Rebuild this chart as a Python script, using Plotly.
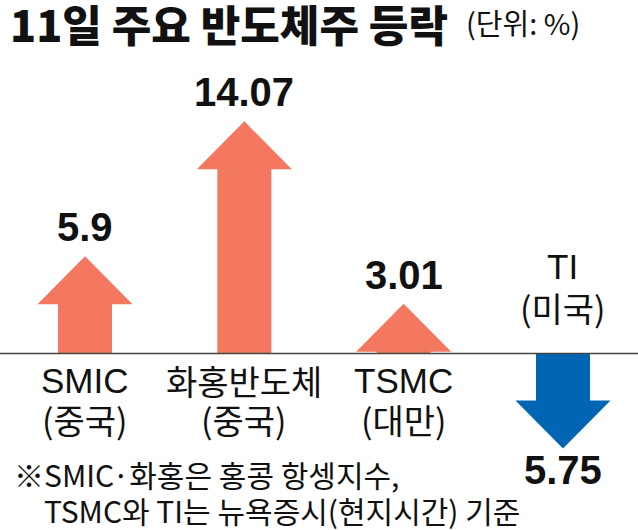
import plotly.graph_objects as go

# ---- data ----
categories = ["SMIC", "화홍반도체", "TSMC", "TI"]
countries = ["(중국)", "(중국)", "(대만)", "(미국)"]
changes = [5.9, 14.07, 3.01, -5.75]
title_text = "11일 주요 반도체주 등락"
unit_text = "(단위: %)"
note_lines = ["※SMIC·화홍은 홍콩 항셍지수,", "TSMC와 TI는 뉴욕증시(현지시간) 기준"]

# ---- style ----
UP_COLOR = "#F47860"
DOWN_COLOR = "#0066B3"
TEXT = "#111111"
W, H = 638, 530
X_PX = 159.33          # pixels per category step
Y_PX = 16.5            # pixels per percentage point
X0_PX = 85             # pixel of first category
BASE_PX = 353.5        # pixel of zero line from top
xr = [-X0_PX / X_PX, (W - X0_PX) / X_PX]
yr = [-(H - BASE_PX) / Y_PX, BASE_PX / Y_PX]
HEAD_HW = 47.5 / X_PX
SHAFT_HW = 27 / X_PX
HEAD_H = 48 / Y_PX

LATIN = "Liberation Sans, Arial, Noto Sans CJK KR, sans-serif"
KR = "Noto Sans CJK KR, Noto Sans, sans-serif"

fig = go.Figure()
for i, (cat, v) in enumerate(zip(categories, changes)):
    s = 1 if v >= 0 else -1
    hb = v - s * HEAD_H
    xs = [i - SHAFT_HW, i - SHAFT_HW, i - HEAD_HW, i, i + HEAD_HW, i + SHAFT_HW, i + SHAFT_HW, i - SHAFT_HW]
    ys = [0, hb, hb, v, hb, hb, 0, 0]
    fig.add_trace(go.Scatter(
        x=xs, y=ys, fill="toself", fillcolor=UP_COLOR if v >= 0 else DOWN_COLOR,
        mode="lines", line=dict(width=0), hoverinfo="skip", showlegend=False))

    # value label
    fig.add_annotation(
        x=i, y=v, xref="x", yref="y", text=f"{abs(v)}", showarrow=False,
        xanchor="center", yanchor="middle", yshift=29 if v >= 0 else -22,
        font=dict(family=LATIN, size=40, color=TEXT, weight="bold"))

    # category labels
    if v >= 0:
        s1, s2 = -26.5, -65.5
    else:
        s1, s2 = 87, 46.5
    fig.add_annotation(
        x=i, y=0, xref="x", yref="y", text=cat, showarrow=False,
        xanchor="center", yanchor="middle", yshift=s1,
        font=dict(family=LATIN if cat.isascii() else KR,
                  size=35 if cat.isascii() else 34, color=TEXT))
    fig.add_annotation(
        x=i, y=0, xref="x", yref="y", text=countries[i], showarrow=False,
        xanchor="center", yanchor="middle", yshift=s2,
        font=dict(family=KR, size=34, color=TEXT))

# zero line
fig.add_shape(type="line", xref="paper", x0=0, x1=1, yref="y", y0=0, y1=0,
              line=dict(color="#444444", width=1.5), layer="above")

# title
fig.add_annotation(xref="paper", yref="paper", x=8 / W, y=1 - 23 / H, text=title_text,
                   showarrow=False, xanchor="left", yanchor="middle",
                   font=dict(family=KR, size=43, color=TEXT, weight=900))
fig.add_annotation(xref="paper", yref="paper", x=464 / W, y=1 - 22 / H, text=unit_text,
                   showarrow=False, xanchor="left", yanchor="middle",
                   font=dict(family=KR, size=29, color=TEXT))

# footnote
fig.add_annotation(xref="paper", yref="paper", x=12 / W, y=1 - 474 / H, text=note_lines[0],
                   showarrow=False, xanchor="left", yanchor="middle",
                   font=dict(family=KR, size=30, color=TEXT))
fig.add_annotation(xref="paper", yref="paper", x=42 / W, y=1 - 510 / H, text=note_lines[1],
                   showarrow=False, xanchor="left", yanchor="middle",
                   font=dict(family=KR, size=30, color=TEXT))

fig.update_layout(
    width=W, height=H, margin=dict(l=0, r=0, t=0, b=0),
    paper_bgcolor="white", plot_bgcolor="white",
    xaxis=dict(range=xr, visible=False, fixedrange=True),
    yaxis=dict(range=yr, visible=False, fixedrange=True),
)

fig.write_html("out.html", config={"displayModeBar": False},
               post_script="document.body.style.margin='0';document.body.style.padding='0';")
